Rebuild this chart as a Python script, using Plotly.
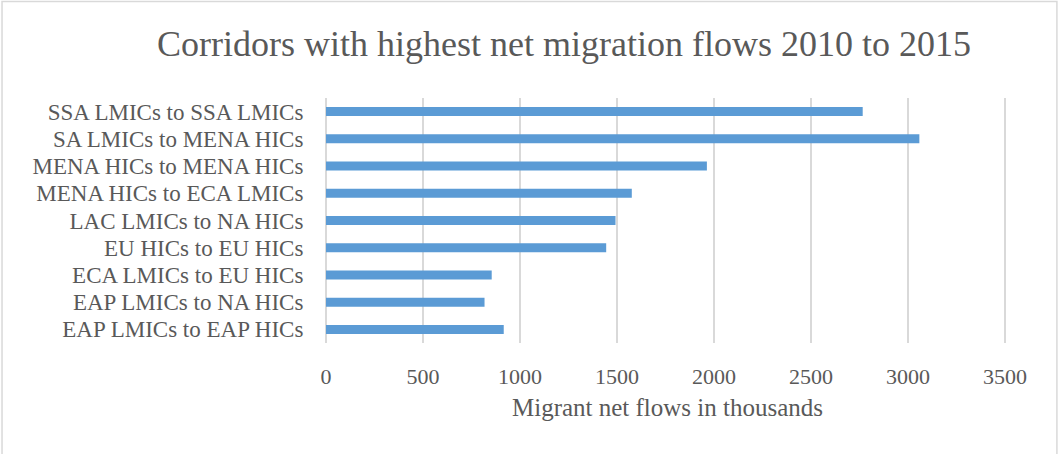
import plotly.graph_objects as go

# Migration corridors, listed top to bottom as shown on the chart
corridors = [
    "SSA LMICs to SSA LMICs",
    "SA LMICs to MENA HICs",
    "MENA HICs to MENA HICs",
    "MENA HICs to ECA LMICs",
    "LAC LMICs to NA HICs",
    "EU HICs to EU HICs",
    "ECA LMICs to EU HICs",
    "EAP LMICs to NA HICs",
    "EAP LMICs to EAP HICs",
]
# Net flows, thousands of migrants
net_flows = [2766, 3058, 1963, 1576, 1492, 1444, 854, 817, 916]
x_ticks = [0, 500, 1000, 1500, 2000, 2500, 3000, 3500]

FONT = "Liberation Serif"
TEXT = "#595959"
GRID = "#D9D9D9"
BLUE = "#5B9BD5"

fig = go.Figure(
    go.Bar(
        x=net_flows,
        y=corridors,
        orientation="h",
        marker=dict(color=BLUE, line=dict(width=0)),
    )
)

W, H = 1059, 454
# a small headroom past 3500 keeps the last gridline from being clipped
X_MAX = 3520
L, T, B = 325.5, 98, 111
R = W - L - 679.2 * X_MAX / 3500
pw, ph = W - L - R, H - T - B

def px_x(p):
    return (p - L) / pw

def px_y(p):
    return (H - B - p) / ph

fig.update_layout(
    width=W,
    height=H,
    margin=dict(l=L, r=R, t=T, b=B, pad=0),
    paper_bgcolor="white",
    plot_bgcolor="white",
    bargap=0.67,
    showlegend=False,
    font=dict(family=FONT, color=TEXT, size=23),
    title=dict(
        text="Corridors with highest net migration flows 2010 to 2015",
        font=dict(family=FONT, size=36, color=TEXT),
        xref="container", x=564 / W, xanchor="center",
        yref="container", y=1 - 43 / H, yanchor="middle",
    ),
    xaxis=dict(
        range=[0, X_MAX],
        tickvals=x_ticks,
        ticktext=[str(v) for v in x_ticks],
        showgrid=True,
        gridcolor=GRID,
        gridwidth=1.5,
        zeroline=True,
        zerolinecolor=GRID,
        zerolinewidth=1.5,
        showline=False,
        ticks="outside",
        ticklen=14,
        tickcolor="rgba(0,0,0,0)",
        tickfont=dict(family=FONT, size=22, color=TEXT),
        title=dict(
            text="Migrant net flows in thousands",
            font=dict(family=FONT, size=25, color=TEXT),
            standoff=10,
        ),
        fixedrange=True,
    ),
    yaxis=dict(
        autorange="reversed",
        tickmode="array",
        tickvals=corridors,
        ticktext=corridors,
        showgrid=False,
        showline=False,
        zeroline=False,
        ticks="outside",
        ticklen=17,
        tickcolor="rgba(0,0,0,0)",
        tickfont=dict(family=FONT, size=23, color=TEXT),
        fixedrange=True,
    ),
    shapes=[
        dict(
            type="rect",
            xref="paper", yref="paper",
            x0=px_x(1.5), x1=px_x(1056.5),
            y0=px_y(470), y1=px_y(1.5),
            line=dict(color=GRID, width=1.5),
            fillcolor="rgba(0,0,0,0)",
            layer="below",
        )
    ],
)

fig.write_html("out.html", config=dict(displayModeBar=False))
